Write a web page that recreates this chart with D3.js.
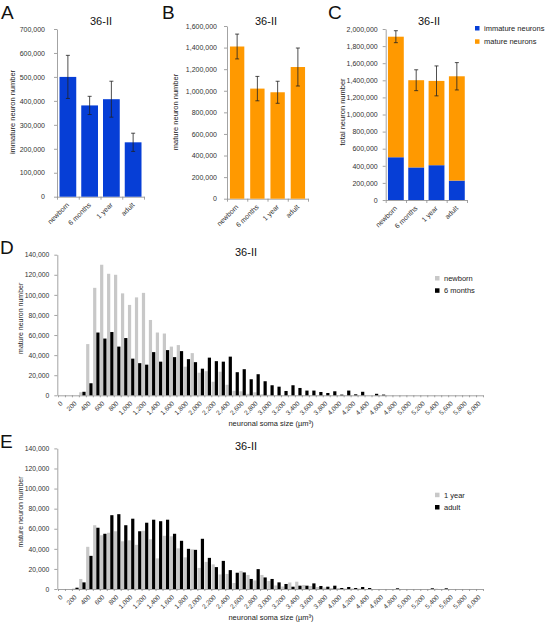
<!DOCTYPE html>
<html>
<head>
<meta charset="utf-8">
<script src="https://cdn.jsdelivr.net/npm/d3@7"></script>
<style>
body { margin: 0; background: #fff; }
svg { font-family: "Liberation Sans", Arial, sans-serif; }
.axis path, .axis line { stroke: #8c8c8c; stroke-width: 0.8; }
.axis text { fill: #333; }
</style>
</head>
<body>
<script>
// panels A-C
var ages = ["newborn", "6 months", "1 year", "adult"];
var immature = [500000, 381000, 407000, 227000];
var immatureErr = [90000, 38000, 75000, 38000];
var mature = [1410000, 1020000, 986000, 1220000];
var matureErr = [115000, 113000, 102000, 176000];
var totalErr = [70000, 122000, 175000, 160000];

var ticksA = [0, 100000, 200000, 300000, 400000, 500000, 600000, 700000];
var ticksB = [0, 200000, 400000, 600000, 800000, 1000000, 1200000, 1400000, 1600000];
var ticksC = [0, 200000, 400000, 600000, 800000, 1000000, 1200000, 1400000, 1600000, 1800000, 2000000];

// panels D-E, soma size bins (um3)
var bins = [0, 100, 200, 300, 400, 500, 600, 700, 800, 900, 1000, 1100, 1200, 1300, 1400, 1500,
    1600, 1700, 1800, 1900, 2000, 2100, 2200, 2300, 2400, 2500, 2600, 2700, 2800, 2900, 3000,
    3100, 3200, 3300, 3400, 3500, 3600, 3700, 3800, 3900, 4000, 4100, 4200, 4300, 4400, 4500,
    4600, 4700, 4800, 4900, 5000, 5100, 5200, 5300, 5400, 5500, 5600, 5700, 5800, 5900, 6000];
var histTicks = [0, 20000, 40000, 60000, 80000, 100000, 120000, 140000];

var newborn = [0, 0, 0, 3000, 51000, 107000, 130000, 121000, 120000, 101500, 90000, 97500, 102000,
    75000, 62500, 61500, 48500, 50000, 28500, 42000, 22500, 24000, 13500, 23500, 10500, 4500, 4000,
    1500, 3000, 1000, 500, 300, 0, 0, 0, 0, 0, 0, 0, 0, 0, 0, 0, 0, 0, 0,
    0, 0, 0, 0, 0, 0, 0, 0, 0, 0, 0, 0, 0, 0, 0];
var sixMonths = [0, 0, 0, 3500, 12000, 62500, 56500, 63000, 48500, 57000, 36500, 32000, 30500,
    43000, 33500, 45000, 38000, 44000, 36000, 33000, 26500, 37500, 34000, 33500, 38500, 23000, 26000,
    16000, 21000, 14000, 10000, 8600, 4300, 10000, 7300, 4700, 4700, 3300, 2300, 4000, 700, 4700, 1000, 3500, 0, 1500,
    700, 0, 0, 0, 0, 0, 0, 0, 0, 0, 0, 0, 0, 0, 0];
var oneYear = [0, 0, 500, 10000, 42000, 63500, 53500, 56000, 57500, 47500, 48500, 44000, 58000,
    49500, 30500, 53000, 52500, 40500, 31500, 39500, 21000, 27000, 24500, 14500, 15000, 6000, 18000,
    14000, 8500, 14000, 8000, 3500, 2500, 6500, 7300, 4000, 3000, 2000, 1500, 1000, 1000, 500, 500, 500, 0, 0,
    0, 0, 0, 0, 0, 0, 0, 0, 300, 0, 0, 0, 0, 0, 0];
var adult = [0, 0, 1300, 6600, 33000, 61000, 55000, 73500, 74500, 63500, 70000, 57500, 66000,
    69000, 67500, 69000, 55000, 48000, 40000, 39000, 50000, 31000, 21800, 28000, 18800, 16200, 16500,
    10000, 19800, 11500, 10000, 6600, 5000, 2300, 3300, 3300, 5600, 3000, 2300, 3300, 1000, 2000, 1000, 2000, 1000, 0,
    0, 0, 700, 0, 0, 0, 0, 700, 0, 700, 0, 0, 0, 0, 0];

var blue = "rgb(6,62,214)", orange = "rgb(255,153,0)", grey = "rgb(200,200,200)";
var fmt = d3.format(",");

var svg = d3.select("body").append("svg")
    .attr("width", 546)
    .attr("height", 622);

function label(txt, x, y, size, opts) {
    opts = opts || {};
    var t = svg.append("text")
        .attr("x", x).attr("y", y)
        .attr("font-size", size)
        .attr("fill", opts.fill || "#111")
        .attr("text-anchor", opts.anchor || "start")
        .text(txt);
    if (opts.rotate) {
        t.attr("x", 0).attr("y", 0).attr("dy", "0.35em")
         .attr("transform", "translate(" + x + "," + y + ") rotate(-90)");
    }
    return t;
}

function barPanel(p) {
    var g = svg.append("g");
    var x = d3.scaleBand().domain(ages).range([p.x0, p.x1]).paddingInner(p.pad).paddingOuter(p.pad / 2);
    var y = d3.scaleLinear().domain([0, p.max]).range([p.y0, p.y1]);

    g.append("g").attr("class", "axis")
        .attr("transform", "translate(" + p.x0 + ",0)")
        .call(d3.axisLeft(y).tickValues(p.ticks).tickSize(3).tickSizeOuter(0).tickPadding(p.tp).tickFormat(fmt))
        .selectAll("text").attr("font-size", "7px");

    // category boundary ticks
    var xb = d3.scaleLinear().domain([0, ages.length]).range([p.x0, p.x1]);
    g.append("g").attr("class", "axis")
        .attr("transform", "translate(0," + p.y0 + ")")
        .call(d3.axisBottom(xb).tickValues(d3.range(ages.length + 1)).tickSize(3).tickSizeOuter(0).tickFormat(""));

    // stacked layers
    p.layers.forEach(function(layer) {
        g.selectAll(null).data(ages).enter().append("rect")
            .attr("x", function(d) { return x(d); })
            .attr("width", x.bandwidth())
            .attr("y", function(d, i) { return y(layer.base[i] + layer.vals[i]); })
            .attr("height", function(d, i) { return y(layer.base[i]) - y(layer.base[i] + layer.vals[i]); })
            .attr("fill", layer.color);
    });

    // error bars
    var eb = g.selectAll(null).data(ages).enter().append("g")
        .attr("stroke", "#222").attr("stroke-width", 0.8);
    eb.append("line")
        .attr("x1", function(d) { return x(d) + x.bandwidth() / 2; })
        .attr("x2", function(d) { return x(d) + x.bandwidth() / 2; })
        .attr("y1", function(d, i) { return y(p.tops[i] + p.err[i]); })
        .attr("y2", function(d, i) { return y(p.tops[i] - p.err[i]); });
    [1, -1].forEach(function(s) {
        eb.append("line")
            .attr("x1", function(d) { return x(d) + x.bandwidth() / 2 - 2; })
            .attr("x2", function(d) { return x(d) + x.bandwidth() / 2 + 2; })
            .attr("y1", function(d, i) { return y(p.tops[i] + s * p.err[i]); })
            .attr("y2", function(d, i) { return y(p.tops[i] + s * p.err[i]); });
    });

    // rotated category labels
    g.append("g").attr("class", "axis")
        .attr("transform", "translate(0," + p.y0 + ")")
        .call(d3.axisBottom(x).tickSize(0))
        .call(function(a) { a.select(".domain").remove(); })
        .selectAll("text")
        .attr("font-size", "7px")
        .attr("text-anchor", "end")
        .attr("y", 0).attr("dy", "0.35em")
        .attr("transform", "translate(0,7) rotate(-45)");

    label("36-II", p.tx, 25, "11px", { anchor: "middle" });
    label(p.ylab, p.lx, 112, "7.5px", { anchor: "middle", rotate: true, fill: "#222" });
    label(p.letter, p.letterX, 18.5, "19px");
}

barPanel({
    x0: 57, x1: 144, pad: 0.23, y0: 196.7, y1: 29, max: 700000, ticks: ticksA, tp: 9,
    layers: [{ vals: immature, base: [0, 0, 0, 0], color: blue }],
    tops: immature, err: immatureErr,
    tx: 101, ylab: "immature neuron number", lx: 12.5, letter: "A", letterX: 1
});
barPanel({
    x0: 227, x1: 308, pad: 0.29, y0: 198.7, y1: 26, max: 1600000, ticks: ticksB, tp: 7,
    layers: [{ vals: mature, base: [0, 0, 0, 0], color: orange }],
    tops: mature, err: matureErr,
    tx: 266, ylab: "mature neuron number", lx: 175.7, letter: "B", letterX: 162
});
barPanel({
    x0: 385.7, x1: 467, pad: 0.22, y0: 200, y1: 29, max: 2000000, ticks: ticksC, tp: 5,
    layers: [{ vals: immature, base: [0, 0, 0, 0], color: blue },
             { vals: mature, base: immature, color: orange }],
    tops: immature.map(function(d, i) { return d + mature[i]; }), err: totalErr,
    tx: 429, ylab: "total neuron number", lx: 342.5, letter: "C", letterX: 328
});

// legend C
[["immature neurons", blue], ["mature neurons", orange]].forEach(function(d, i) {
    svg.append("rect").attr("x", 475).attr("y", 26 + i * 13.3).attr("width", 4.5).attr("height", 4.5).attr("fill", d[1]);
    label(d[0], 484, 28.3 + i * 13.3, "7.5px", { fill: "#222" }).attr("dy", "0.35em");
});

function histPanel(p) {
    var g = svg.append("g");
    var x = d3.scaleBand().domain(bins).range([58, 483]).paddingInner(0.08).paddingOuter(0.04);
    var xs = d3.scaleBand().domain([0, 1]).range([0, x.bandwidth()]);
    var y = d3.scaleLinear().domain([0, 140000]).range([p.y0, p.y0 - 140.6]);

    g.append("g").attr("class", "axis")
        .attr("transform", "translate(57.3,0)")
        .call(d3.axisLeft(y).tickValues(histTicks).tickSize(3).tickSizeOuter(0).tickPadding(5).tickFormat(fmt))
        .selectAll("text").attr("font-size", "6.8px");

    var xb = d3.scaleLinear().domain([0, bins.length]).range([58, 483]);
    g.append("g").attr("class", "axis")
        .attr("transform", "translate(0," + p.y0 + ")")
        .call(d3.axisBottom(xb).tickValues(d3.range(bins.length + 1)).tickSize(2).tickSizeOuter(0).tickFormat(""));

    [[p.a, grey], [p.b, "#000"]].forEach(function(s, k) {
        g.selectAll(null).data(s[0]).enter().append("rect")
            .attr("x", function(d, i) { return x(bins[i]) + xs(k); })
            .attr("width", xs.bandwidth())
            .attr("y", function(d) { return y(d); })
            .attr("height", function(d) { return p.y0 - y(d); })
            .attr("fill", s[1]);
    });

    g.append("g").attr("class", "axis")
        .attr("transform", "translate(0," + p.y0 + ")")
        .call(d3.axisBottom(x).tickValues(bins.filter(function(d, i) { return i % 2 === 0; })).tickSize(0).tickFormat(fmt))
        .call(function(a) { a.select(".domain").remove(); })
        .selectAll("text")
        .attr("font-size", "6.5px")
        .attr("text-anchor", "end")
        .attr("y", 0).attr("dy", "0.35em")
        .attr("transform", "translate(0,7) rotate(-45)");

    label("36-II", 246, p.y0 - 139, "11px", { anchor: "middle" });
    label("mature neuron number", 20.7, p.y0 - 77, "7px", { anchor: "middle", rotate: true, fill: "#222" });
    label("neuronal soma size (\u00b5m\u00b3)", 271, p.y0 + 31, "7.5px", { anchor: "middle", fill: "#222" });
    label(p.letter, 0, p.y0 - 141.5, "19px");

    [[p.names[0], grey], [p.names[1], "#000"]].forEach(function(d, i) {
        svg.append("rect").attr("x", 435).attr("y", p.ly + i * 12.3).attr("width", 4.5).attr("height", 4.5).attr("fill", d[1]);
        label(d[0], 444, p.ly + 2.3 + i * 12.3, "7.5px", { fill: "#222" }).attr("dy", "0.35em");
    });
}

histPanel({ y0: 395.3, a: newborn, b: sixMonths, letter: "D", names: ["newborn", "6 months"], ly: 276 });
histPanel({ y0: 589, a: oneYear, b: adult, letter: "E", names: ["1 year", "adult"], ly: 492.7 });
</script>
</body>
</html>
